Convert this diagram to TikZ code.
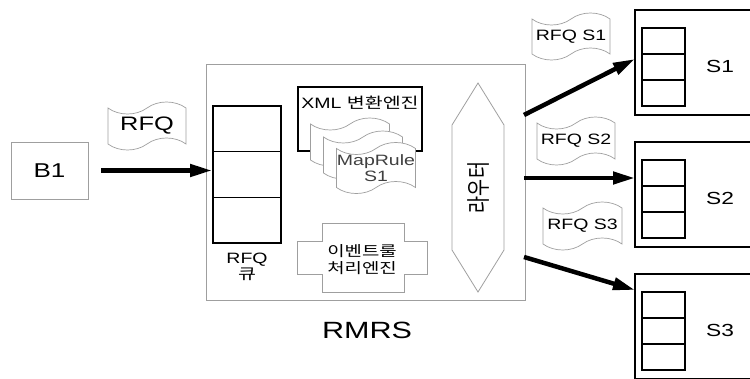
\documentclass[tikz,border=0pt]{standalone}
\usepackage{fontspec}
\setmainfont{Liberation Sans}[FakeStretch=1.3]
\newfontfamily\kr{Noto Sans CJK KR}[FakeStretch=1.3]
\newfontfamily\krplain{Noto Sans CJK KR}
\usetikzlibrary{shapes.symbols, arrows.meta, calc, positioning}
\newcommand{\fsz}[1]{\fontsize{#1}{#1}\selectfont}

\tikzset{
  thinbox/.style={draw=gray!75, line width=0.8pt, inner sep=0pt},
  thickbox/.style={draw=black, line width=1.8pt, inner sep=0pt},
  flag/.style={tape, draw=gray!75, line width=0.7pt, fill=white,
    tape bend height=12pt, inner sep=0pt},
  bigarrow/.style={line width=4.5pt, -{Triangle[length=22pt,width=12pt]}},
  qline/.style={line width=1.6pt},
}

\begin{document}
\begin{tikzpicture}[x=1pt, y=-1pt]
    \useasboundingbox (0,0) rectangle (750,378);

    % buyer and incoming request
    \node[thinbox, minimum width=77pt, minimum height=57pt, font=\fsz{20}] (b1) at (49.5,170.5) {B1};
    \node[flag, minimum width=78pt, minimum height=48pt, font=\fsz{19.5}] (rfq) at (147,126) {RFQ};

    % RMRS server
    \node[thinbox, minimum width=319pt, minimum height=236pt] (rmrs) at (365.5,182) {};
    \node[font=\fsz{23.5}] (rmrslbl) at (367,330) {RMRS};

    % request queue
    \node[thickbox, minimum width=68pt, minimum height=137pt] (queue) at (247,174.5) {};
    \foreach \k in {1,2}
        \draw[qline] ($(queue.north west)!\k/3!(queue.south west)$) -- ($(queue.north east)!\k/3!(queue.south east)$);
    \node[align=center, font=\fsz{15}] (qlbl) at (247,267) {RFQ\\[1pt]{\kr 큐}};

    % XML transform engine with mapping rules
    \node[thickbox, minimum width=124pt, minimum height=64pt] (xml) at (360,119) {};
    \node[font=\fsz{15}] (xmllbl) at (360,103) {XML {\kr 변환엔진}};
    \node[flag, minimum width=79pt, minimum height=48pt] (map1) at (350,142) {};
    \node[flag, minimum width=79pt, minimum height=48pt] (map2) at (363,155) {};
    \node[flag, minimum width=79pt, minimum height=48pt, align=center, text=black!75, font=\fsz{15}]
        (map3) at (376,168) {MapRule\\[1pt]S1};

    % event rule engine
    \draw[thinbox] (322,223) -- (404,223) -- (404,241) -- (427,241) -- (427,274) -- (404,274)
        -- (404,292) -- (322,292) -- (322,274) -- (297,274) -- (297,241) -- (322,241) -- cycle;
    \node[align=center, font=\fsz{14.5}] (evt) at (362,259.5) {\kr 이벤트룰\\[2pt]\kr 처리엔진};

    % router
    \draw[thinbox] (478,83) -- (504,125) -- (504,250) -- (478,292) -- (452,250) -- (452,125) -- cycle;
    \node[rotate=90, font=\fsz{18.5}] (rtr) at (479,187.5) {\scalebox{1}[1.3]{\krplain 라우터}};

    % suppliers
    \foreach \i/\t in {1/10,2/142,3/274} {
        \node[thickbox, line width=1.6pt, minimum width=125pt, minimum height=105pt] (s\i) at (697.5,\t+52.5) {};
        \node[thickbox, line width=1.6pt, minimum width=43pt, minimum height=78pt] (sq\i) at (663.5,\t+57) {};
        \foreach \k in {1,2}
            \draw[qline] ($(sq\i.north west)!\k/3!(sq\i.south west)$) -- ($(sq\i.north east)!\k/3!(sq\i.south east)$);
        \node[font=\fsz{17.5}] (sl\i) at (720,\t+56) {S\i};
    }

    % routed requests
    \node[flag, minimum width=78pt, minimum height=47pt, font=\fsz{15}] (rfq1) at (571,36.5) {RFQ S1};
    \node[flag, minimum width=78pt, minimum height=48pt, font=\fsz{15}] (rfq2) at (576,141) {RFQ S2};
    \node[flag, minimum width=79pt, minimum height=48pt, font=\fsz{15}] (rfq3) at (582.5,226) {RFQ S3};

    \coordinate (o1) at (524,115);
    \coordinate (o2) at (524,178);
    \coordinate (o3) at (524,257);
    \coordinate (t1) at (635,59);
    \coordinate (t2) at (635,178);
    \coordinate (t3) at (635,290);

    \draw[bigarrow, shorten <=13pt] (b1.east) -- (b1.east -| queue.west);
    \draw[bigarrow] (o1) -- (t1);
    \draw[bigarrow] (o2) -- (t2);
    \draw[bigarrow] (o3) -- (t3);
\end{tikzpicture}
\end{document}
